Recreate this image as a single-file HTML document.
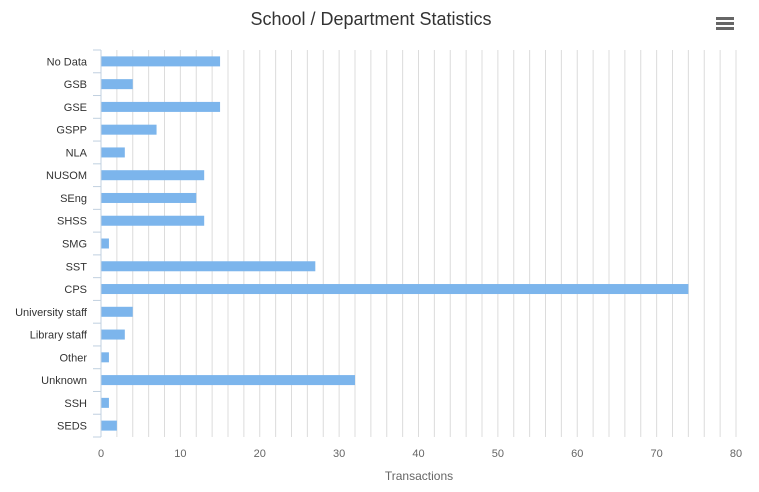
<!DOCTYPE html>
<html><head><meta charset="utf-8"><style>
body{margin:0;background:#fff;font-family:"Liberation Sans",sans-serif}
svg{display:block}
</style></head><body>
<svg id="chart" width="759" height="492">
<text x="371" y="25" text-anchor="middle" font-size="18" fill="#333">School / Department Statistics</text>
<g>
<rect x="716" y="17" width="18" height="3" fill="#666"/><rect x="716" y="22" width="18" height="3" fill="#666"/><rect x="716" y="27" width="18" height="3" fill="#666"/>
</g>
<g id="grid"></g><g id="bars"></g><g id="yax"></g><g id="xax"></g>
<text x="419" y="480" text-anchor="middle" font-size="12" fill="#666">Transactions</text>
</svg>
<script>
const categories=["No Data","GSB","GSE","GSPP","NLA","NUSOM","SEng","SHSS","SMG","SST","CPS","University staff","Library staff","Other","Unknown","SSH","SEDS"];
const values=[15,4,15,7,3,13,12,13,1,27,74,4,3,1,32,1,2];
const xTicks=[0,10,20,30,40,50,60,70,80];
const L=101,R=736,T=50,B=437,XMAX=80;
const ns="http://www.w3.org/2000/svg";
const x=v=>L+(R-L)*v/XMAX;
const band=(B-T)/categories.length;
const y=i=>T+band*i;
function mk(tag,attrs,parent){const e=document.createElementNS(ns,tag);for(const k in attrs)e.setAttribute(k,attrs[k]);document.getElementById(parent).appendChild(e);return e;}
for(let v=2;v<=XMAX;v+=2){const g=mk("line",{x1:x(v),x2:x(v),y1:T,y2:B,stroke:"#dcdcdc","stroke-width":1},"grid");

}
categories.forEach((c,i)=>{
const b=mk("rect",{x:L,y:y(i)+band/2-5,width:x(values[i])-L,height:10,fill:"#7cb5ec"},"bars");


const t=mk("text",{x:87,y:y(i)+band/2+4,"text-anchor":"end","font-size":11,fill:"#333"},"yax");t.textContent=c;


const tk=mk("line",{x1:93,x2:L,y1:y(i),y2:y(i),stroke:"#c0d0e0"},"yax");


});
const tk2=mk("line",{x1:93,x2:L,y1:B,y2:B,stroke:"#c0d0e0"},"yax");


const ax=mk("line",{x1:L,x2:L,y1:T,y2:B,stroke:"#c0d0e0"},"yax");


xTicks.forEach(v=>{const t=mk("text",{x:x(v),y:457,"text-anchor":"middle","font-size":11,fill:"#666"},"xax");t.textContent=v;

});
</script>
</body></html>
